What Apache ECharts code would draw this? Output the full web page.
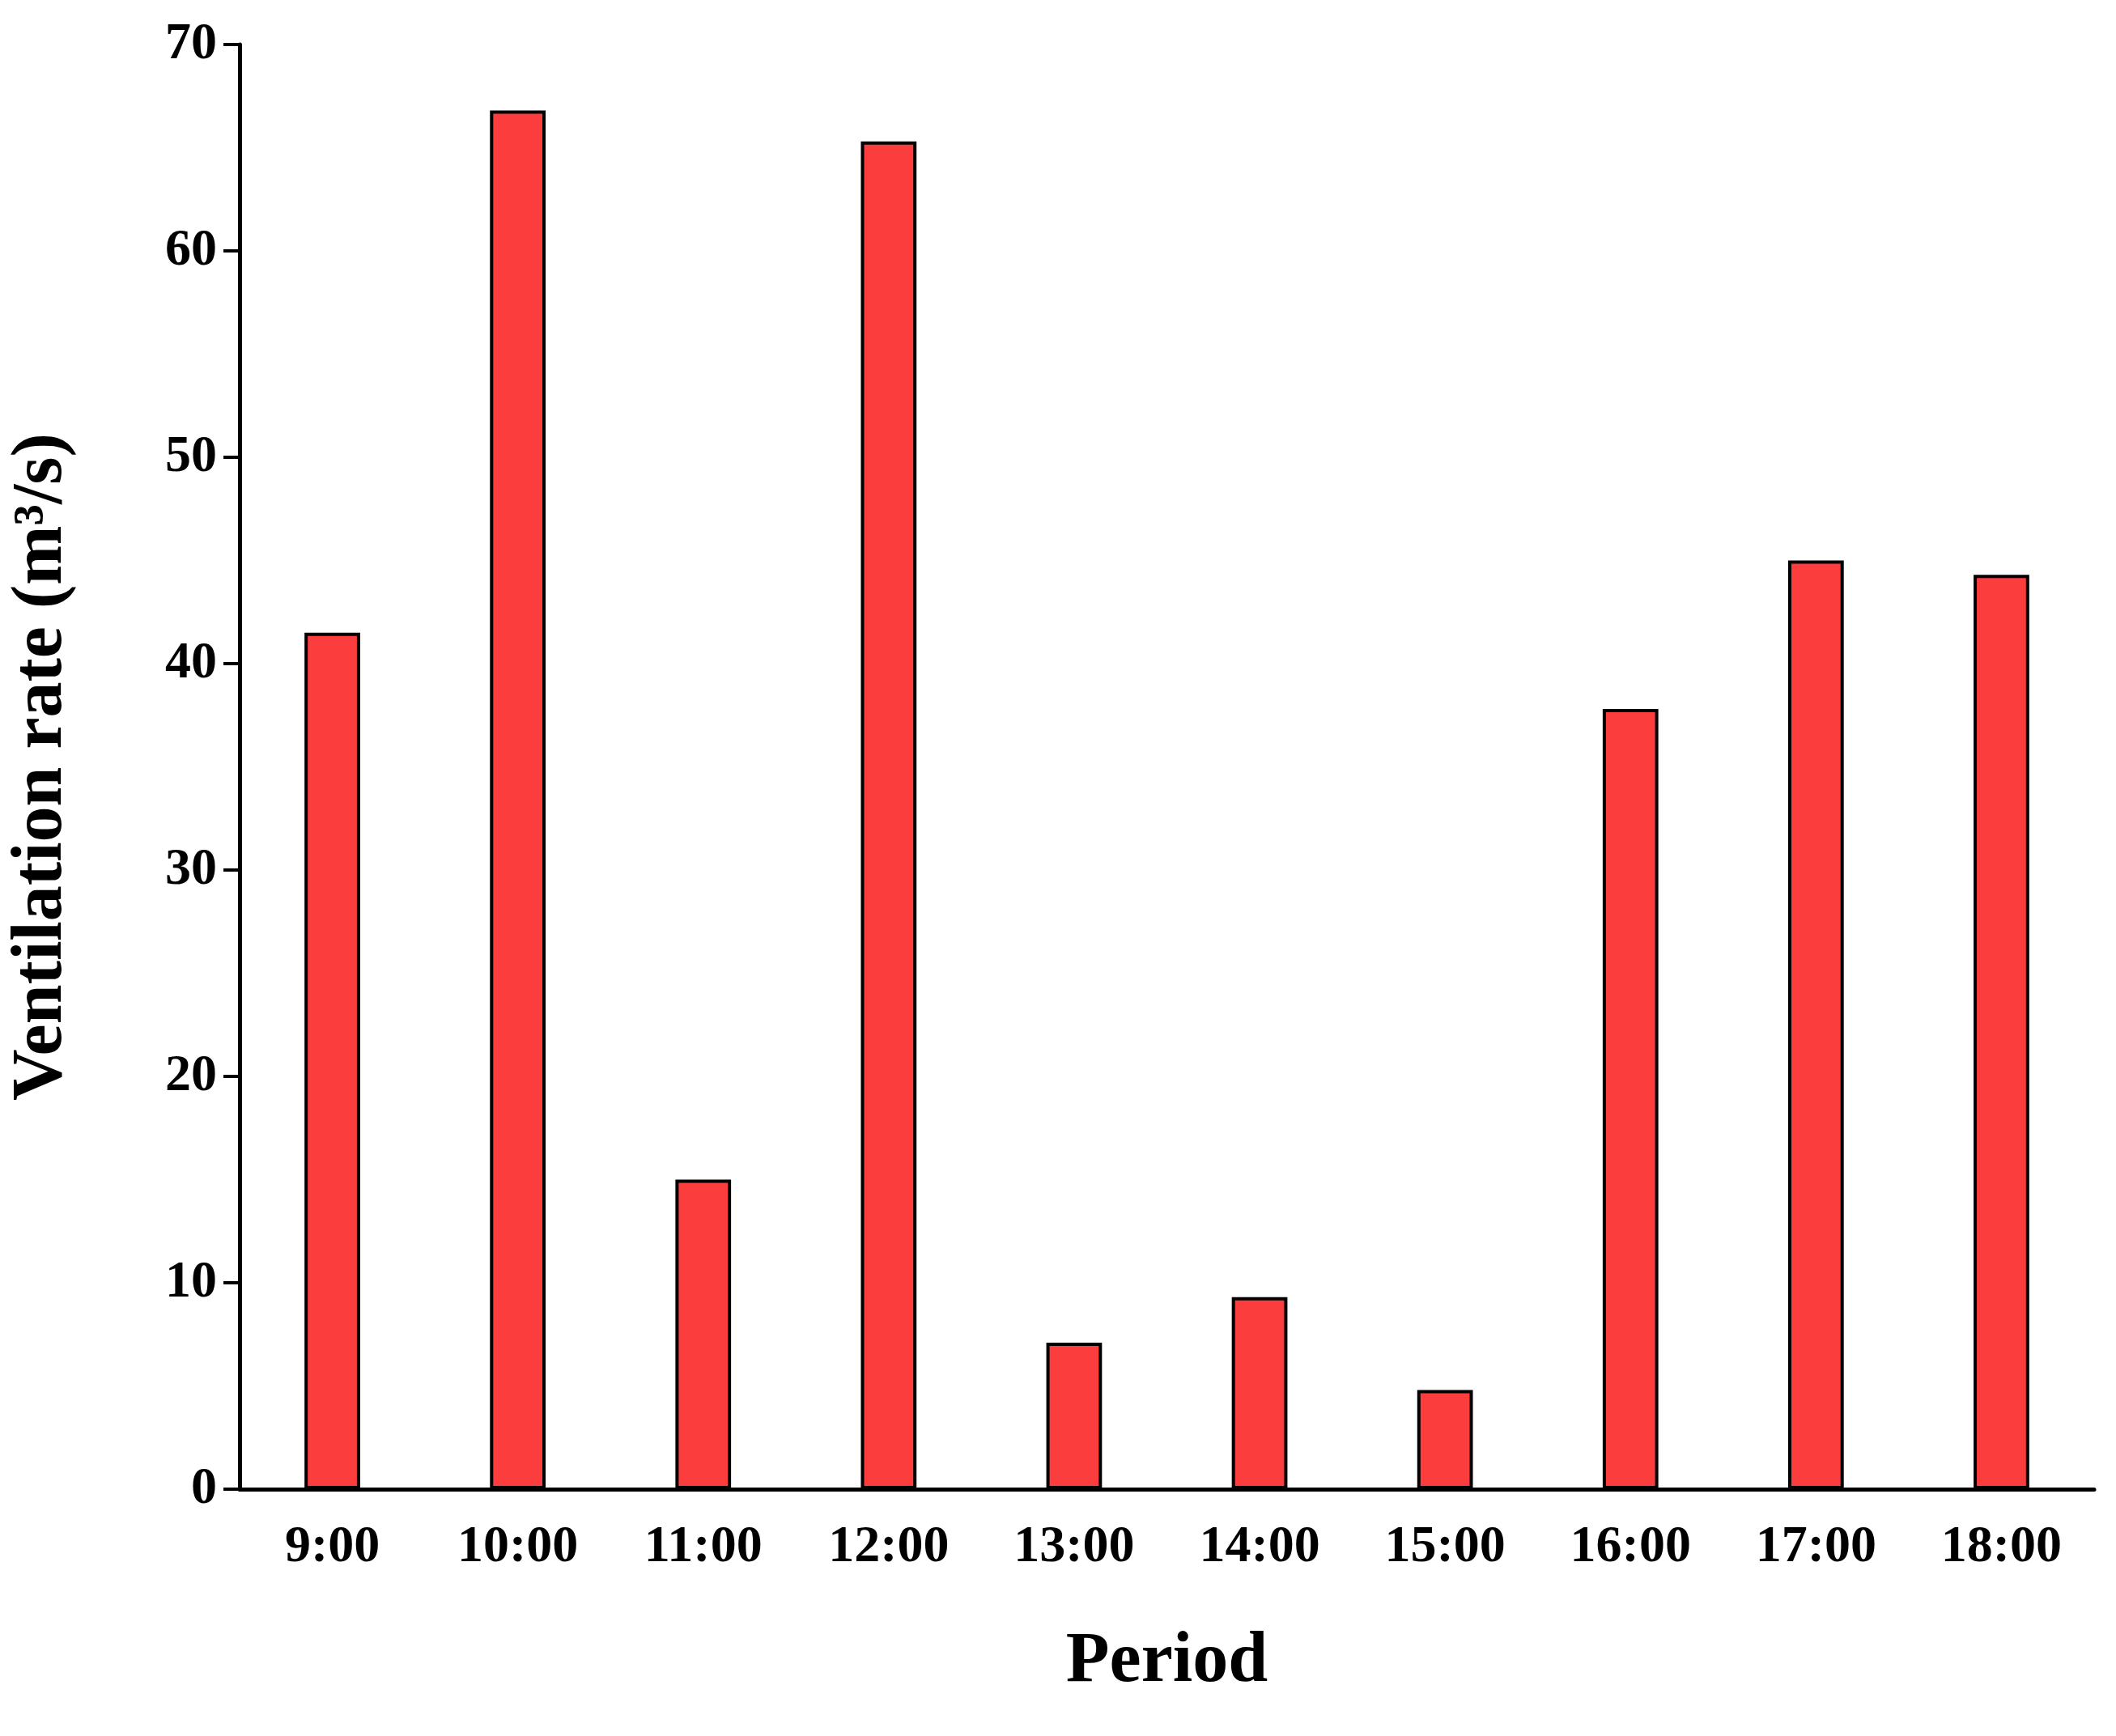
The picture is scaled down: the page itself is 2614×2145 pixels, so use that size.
<!DOCTYPE html>
<html><head><meta charset="utf-8">
<script src="https://cdn.jsdelivr.net/npm/echarts@6/dist/echarts.min.js"></script>
<style>html,body{margin:0;padding:0;background:#fff}#c{width:2614px;height:2145px}</style>
</head><body><div id="c"></div>
<script>
const categories = ['9:00','10:00','11:00','12:00','13:00','14:00','15:00','16:00','17:00','18:00'];
const values = [41.5, 66.8, 15.0, 65.3, 7.1, 9.3, 4.8, 37.8, 45.0, 44.3];
const yTicks = [0,10,20,30,40,50,60,70];
const font = 'Liberation Serif';
const chart = echarts.init(document.getElementById('c'));
chart.setOption({
  animation:false,
  grid:{left:287,right:27,top:55,bottom:305,containLabel:false},
  xAxis:{type:'category',data:categories,name:'Period',nameLocation:'middle',nameGap:170,
    nameTextStyle:{fontFamily:font,fontWeight:'bold',fontSize:88,color:'#000'},
    axisLine:{lineStyle:{color:'#000',width:5}},
    axisTick:{alignWithLabel:true,length:18,lineStyle:{width:4,color:'#000'}},
    axisLabel:{fontFamily:font,fontWeight:'bold',fontSize:64,color:'#000',margin:40}},
  yAxis:{type:'value',min:0,max:70,interval:10,name:'Ventilation rate (m³/s)',nameLocation:'middle',nameGap:200,
    nameTextStyle:{fontFamily:font,fontWeight:'bold',fontSize:88,color:'#000'},
    axisLine:{show:true,lineStyle:{color:'#000',width:5}},
    axisTick:{show:true,length:20,lineStyle:{width:4,color:'#000'}},
    splitLine:{show:false},
    axisLabel:{fontFamily:font,fontWeight:'bold',fontSize:64,color:'#000',margin:28,
      formatter:v=>yTicks.includes(v)?String(v):''}},
  series:[{type:'bar',data:values,barWidth:'30%',
    itemStyle:{color:'#fc3d3d',borderColor:'#000',borderWidth:4}}]
});
</script></body></html>
